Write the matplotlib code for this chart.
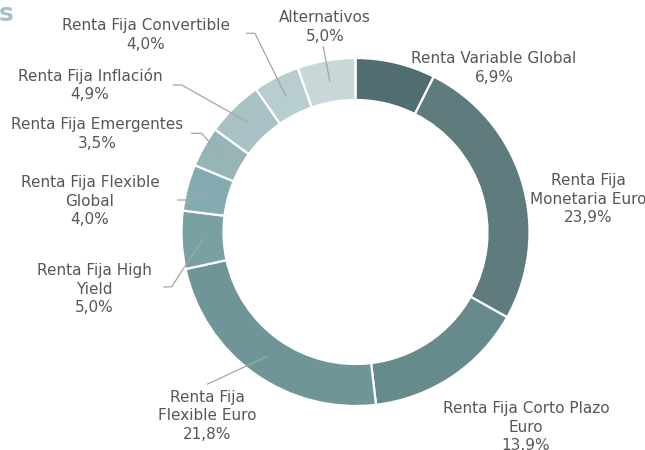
import numpy as np
import matplotlib
matplotlib.use("Agg")
import matplotlib.pyplot as plt

# ---- data ----
categories = [
    "Renta Variable Global",
    "Renta Fija\nMonetaria Euro",
    "Renta Fija Corto Plazo\nEuro",
    "Renta Fija\nFlexible Euro",
    "Renta Fija High\nYield",
    "Renta Fija Flexible\nGlobal",
    "Renta Fija Emergentes",
    "Renta Fija Inflación",
    "Renta Fija Convertible",
    "Alternativos",
]
values = [6.9, 23.9, 13.9, 21.8, 5.0, 4.0, 3.5, 4.9, 4.0, 5.0]
value_labels = ["6,9%", "23,9%", "13.9%", "21,8%", "5,0%", "4,0%", "3,5%", "4,9%", "4,0%", "5,0%"]
colors = ["#506e72", "#5e7c7e", "#678a8c", "#6f9599", "#79a0a3",
          "#83abb0", "#97b5b7", "#a8c1c4", "#b8cdcf", "#c8d8d9"]

# ---- layout (pixel coords, y from top) ----
W, H = 645, 450
center_px = (355.5, 232)
r_out = 174
r_in = 132
label_pos = [(494, 68), (588, 199), (526, 427), (207, 416), (94, 289),
             (90, 201), (97, 134), (90, 85), (146, 35), (325, 27)]
# leader lines: (elbow, end) in pixel coords, or None
leaders = [None, None, None,
           ((207.7, 384), None),
           ((171.7, 286.7), (164, 287)),
           ((185, 200), (177.7, 200)),
           ((201.7, 133.3), (191.7, 133.3)),
           ((181.7, 85), (173.3, 85)),
           ((255, 33.3), (246.7, 33.3)),
           ((323.3, 46.7), None)]

def P(x, y):
    return (x, H - y)

fig = plt.figure(figsize=(W / 100, H / 100), dpi=100)
ax = fig.add_axes([0, 0, 1, 1])
ax.set_xlim(0, W)
ax.set_ylim(0, H)
ax.set_aspect("equal")
ax.axis("off")

cx, cy = P(*center_px)
wedges, _ = ax.pie(values, colors=colors, startangle=90, counterclock=False,
                   radius=r_out, center=(cx, cy),
                   wedgeprops=dict(width=r_out - r_in, edgecolor="white", linewidth=1.6))
ax.set_xlim(0, W)
ax.set_ylim(0, H)

text_color = "#575757"
line_color = "#a6a6a6"
r_mid = (r_out + r_in) / 2
for w, cat, vl, lp, ld in zip(wedges, categories, value_labels, label_pos, leaders):
    ax.text(*P(*lp), f"{cat}\n{vl}", ha="center", va="center", fontsize=11,
            color=text_color, linespacing=1.33, family="DejaVu Sans")
    if ld is not None:
        ang = np.deg2rad((w.theta1 + w.theta2) / 2)
        ax_pt = (cx + r_mid * np.cos(ang), cy + r_mid * np.sin(ang))
        pts = [ax_pt, P(*ld[0])]
        if ld[1] is not None:
            pts.append(P(*ld[1]))
        xs, ys = zip(*pts)
        ax.plot(xs, ys, color=line_color, lw=0.9)

# partially visible title fragment
fig.text(-0.002, 0.995, "s", ha="left", va="top", fontsize=18, fontweight="bold",
         color="#a3c0c4")

fig.savefig("out.png", dpi=100)
